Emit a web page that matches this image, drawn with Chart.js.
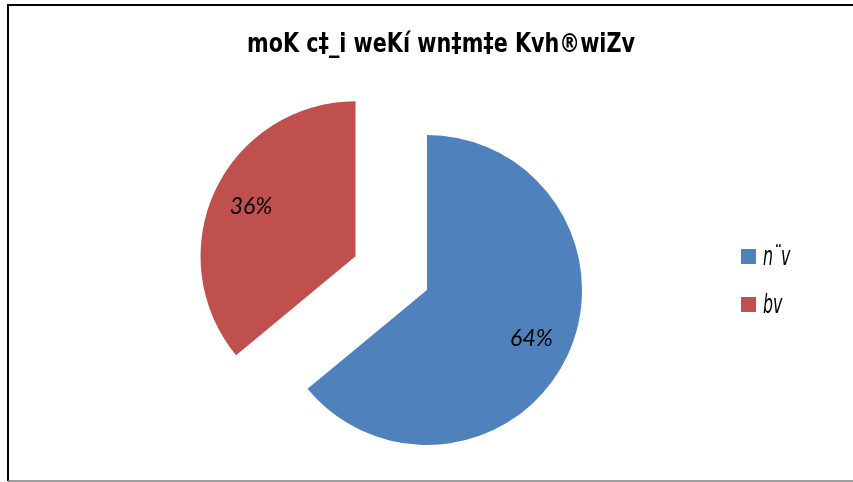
<!DOCTYPE html>
<html>
<head>
<meta charset="utf-8">
<script src="https://cdn.jsdelivr.net/npm/chart.js@4.4.1/dist/chart.umd.min.js"></script>
<style>
  html, body { margin: 0; padding: 0; background: #fff; }
  canvas { display: block; }
</style>
</head>
<body>
<canvas id="canvas" width="853" height="482"></canvas>
<script>
let chartTitle = 'moK c‡_i weKí wn‡m‡e Kvh®wiZv'
let chartLabels = ['n¨v', 'bv']
let chartDatas = [64, 36]
let chartBackgroundColors = ['#4F81BD', '#C0504D']

// how far each slice is pulled out of the pie, in px
const explode = [0, 79]

const titleFont = 'bold 27px "Liberation Sans Narrow", "Arial Narrow", "DejaVu Sans Condensed", sans-serif'
const legendFont = 'italic 27px "Liberation Sans Narrow", "Arial Narrow", "DejaVu Sans Condensed", sans-serif'
const labelFont = 'italic 23px Lato, "Open Sans", sans-serif'

// pull slices out along their middle angle
const explodePlugin = {
    id: 'explode',
    afterDatasetsUpdate(chart) {
        const meta = chart.getDatasetMeta(0)
        meta.data.forEach((arc, i) => {
            const mid = (arc.startAngle + arc.endAngle) / 2
            arc.x += Math.cos(mid) * explode[i]
            arc.y += Math.sin(mid) * explode[i]
        })
    }
}

const decorPlugin = {
    id: 'decor',
    beforeDraw(chart) {
        const { ctx } = chart
        ctx.save()
        ctx.fillStyle = '#fff'
        ctx.fillRect(0, 0, chart.width, chart.height)
        ctx.strokeStyle = '#000'
        ctx.lineWidth = 2
        ctx.beginPath()
        ctx.moveTo(8, 481)
        ctx.lineTo(8, 5)
        ctx.lineTo(chart.width, 5)
        ctx.stroke()
        ctx.strokeStyle = '#7f7f7f'
        ctx.lineWidth = 1.5
        ctx.beginPath()
        ctx.moveTo(8, 481)
        ctx.lineTo(chart.width, 481)
        ctx.stroke()
        ctx.restore()
    },
    afterDraw(chart) {
        const { ctx } = chart
        const meta = chart.getDatasetMeta(0)
        const total = chartDatas.reduce((a, b) => a + b, 0)
        ctx.save()

        // title (squeezed to the narrow look of the original)
        ctx.fillStyle = '#000'
        ctx.font = titleFont
        ctx.textAlign = 'center'
        ctx.textBaseline = 'alphabetic'
        ctx.fillText(chartTitle, 441, 52, 388)

        // percent labels inside slices
        ctx.font = labelFont
        ctx.textBaseline = 'middle'
        meta.data.forEach((arc, i) => {
            const mid = (arc.startAngle + arc.endAngle) / 2
            const r = arc.outerRadius * 0.745
            const x = arc.x + Math.cos(mid) * r
            const y = arc.y + Math.sin(mid) * r - 1
            ctx.fillStyle = '#000'
            ctx.fillText(Math.round(chartDatas[i] / total * 100) + '%', x, y)
        })

        // legend
        ctx.font = legendFont
        ctx.textAlign = 'left'
        ctx.textBaseline = 'alphabetic'
        chartLabels.forEach((lab, i) => {
            const y = 249 + i * 48
            ctx.fillStyle = chartBackgroundColors[i]
            ctx.fillRect(741, y, 15, 15)
            ctx.fillStyle = '#000'
            ctx.save()
            ctx.translate(763, y + 16)
            ctx.scale(0.65, 1)
            ctx.fillText(lab, 0, 0)
            ctx.restore()
        })
        ctx.restore()
    }
}

let configChart = {
    type: 'pie',
    plugins: [explodePlugin, decorPlugin],
    data: {
        labels: chartLabels,
        datasets: [{
            data: chartDatas,
            backgroundColor: chartBackgroundColors,
            borderWidth: 0,
            radius: 155
        }]
    },
    options: {
        responsive: false,
        animation: false,
        layout: {
            padding: { left: 1, right: 0, top: 98, bottom: 0 }
        },
        plugins: {
            legend: { display: false },
            tooltip: { enabled: false },
            title: { display: false }
        }
    }
}

const canvas = document.getElementById('canvas')
const myChart = new Chart(canvas, configChart)
</script>
</body>
</html>
